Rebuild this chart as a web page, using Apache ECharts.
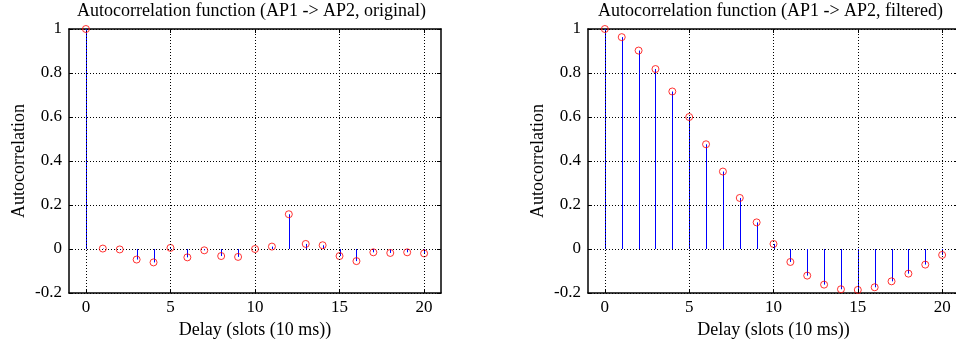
<!DOCTYPE html>
<html>
<head>
<meta charset="utf-8">
<script src="https://cdn.jsdelivr.net/npm/echarts@6/dist/echarts.min.js"></script>
<style>html,body{margin:0;padding:0;background:#fff}#c{width:956px;height:341px}</style>
</head>
<body>
<div id="c"></div>
<script>
const delays = [0,1,2,3,4,5,6,7,8,9,10,11,12,13,14,15,16,17,18,19,20];
const originalAC = [1,0.002,-0.002,-0.048,-0.061,0.005,-0.038,-0.006,-0.032,-0.036,0.0,0.011,0.158,0.023,0.017,-0.032,-0.055,-0.015,-0.018,-0.015,-0.02];
const filteredAC = [1,0.963,0.902,0.818,0.716,0.600,0.476,0.352,0.232,0.121,0.023,-0.059,-0.121,-0.162,-0.183,-0.186,-0.174,-0.147,-0.112,-0.071,-0.027];
const xTicks = [0,5,10,15,20];
const titles = ['Autocorrelation function (AP1 -> AP2, original)','Autocorrelation function (AP1 -> AP2, filtered)'];
const xName = 'Delay (slots (10 ms))';
const yName = 'Autocorrelation';

const FONT = 'Liberation Serif';
const FS = 18;
const TFS = 17;
const dotted = {show:true, lineStyle:{color:'#000', width:1, type:[1,2]}};
const grids = [
  {left:69, top:29, width:372, height:264, outerBoundsMode:'none', containLabel:false},
  {left:588, top:29, width:371, height:264, outerBoundsMode:'none', containLabel:false}
];
const xAxes = [], yAxes = [], series = [];
[originalAC, filteredAC].forEach((vals, i) => {
  xAxes.push({
    gridIndex:i, type:'value', min:-1, max:21, position:'bottom',
    name: xName, nameLocation:'middle', nameGap:20,
    nameTextStyle:{fontFamily:FONT, fontSize:FS, color:'#000'},
    axisLine:{show:true, onZero:false, lineStyle:{color:'#000', width:1.5}},
    axisTick:{show:true, inside:true, length:4, customValues:xTicks, lineStyle:{color:'#000'}},
    axisLabel:{customValues:xTicks, fontFamily:FONT, fontSize:TFS, color:'#000', margin:6},
    splitLine:{show:false}
  });
  xAxes.push({
    gridIndex:i, type:'value', min:-1, max:21, position:'top',
    axisLine:{show:true, onZero:false, lineStyle:{color:'#000', width:1.5}},
    axisTick:{show:true, inside:true, length:4, customValues:xTicks, lineStyle:{color:'#000'}},
    axisLabel:{show:false}, splitLine:{show:false}
  });
  yAxes.push({
    gridIndex:i, type:'value', min:-0.2, max:1, interval:0.2, position:'left',
    name: yName, nameLocation:'middle', nameGap:41, nameRotate:90,
    nameTextStyle:{fontFamily:FONT, fontSize:FS, color:'#000'},
    axisLine:{show:true, onZero:false, lineStyle:{color:'#000', width:1.5}},
    axisTick:{show:true, inside:true, length:4, lineStyle:{color:'#000'}},
    axisLabel:{fontFamily:FONT, fontSize:TFS, color:'#000', margin:7,
      formatter: v => String(Math.round(v*10)/10)},
    splitLine: dotted
  });
  yAxes.push({
    gridIndex:i, type:'value', min:-0.2, max:1, interval:0.2, position:'right',
    axisLine:{show:true, onZero:false, lineStyle:{color:'#000', width:1.5}},
    axisTick:{show:true, inside:true, length:4, lineStyle:{color:'#000'}},
    axisLabel:{show:false}, splitLine:{show:false}
  });
  const pts = delays.map((d, k) => [d, vals[k]]);
  series.push({
    type:'custom', xAxisIndex:2*i, yAxisIndex:2*i, data:pts, silent:true, z:3,
    markLine:{silent:true, symbol:'none', label:{show:false},
      lineStyle:{color:'#000', width:1, type:[1,2]},
      data: xTicks.map(t => ({xAxis:t}))},
    renderItem: (params, api) => {
      const p0 = api.coord([api.value(0), 0]);
      const p1 = api.coord([api.value(0), api.value(1)]);
      const x = Math.round(p0[0]) + 0.5;
      return {type:'line', shape:{x1:x, y1:p0[1], x2:x, y2:p1[1]},
        style:{stroke:'#0000ff', lineWidth:1}};
    }
  });
  series.push({
    type:'scatter', xAxisIndex:2*i, yAxisIndex:2*i, data:pts, symbol:'circle', symbolSize:7,
    itemStyle:{color:'rgba(0,0,0,0)', borderColor:'#ff0000', borderWidth:1}, z:4
  });
});

const chart = echarts.init(document.getElementById('c'), null, {renderer:'canvas'});
chart.setOption({
  animation:false,
  backgroundColor:'#fff',
  title: titles.map((t, i) => ({
    text:t, left: i === 0 ? 77 : 598, top:2, padding:0,
    textStyle:{fontFamily:FONT, fontSize:FS, fontWeight:'normal', color:'#000'}
  })),
  grid: grids,
  xAxis: xAxes,
  yAxis: yAxes,
  series: series
});
</script>
</body>
</html>
